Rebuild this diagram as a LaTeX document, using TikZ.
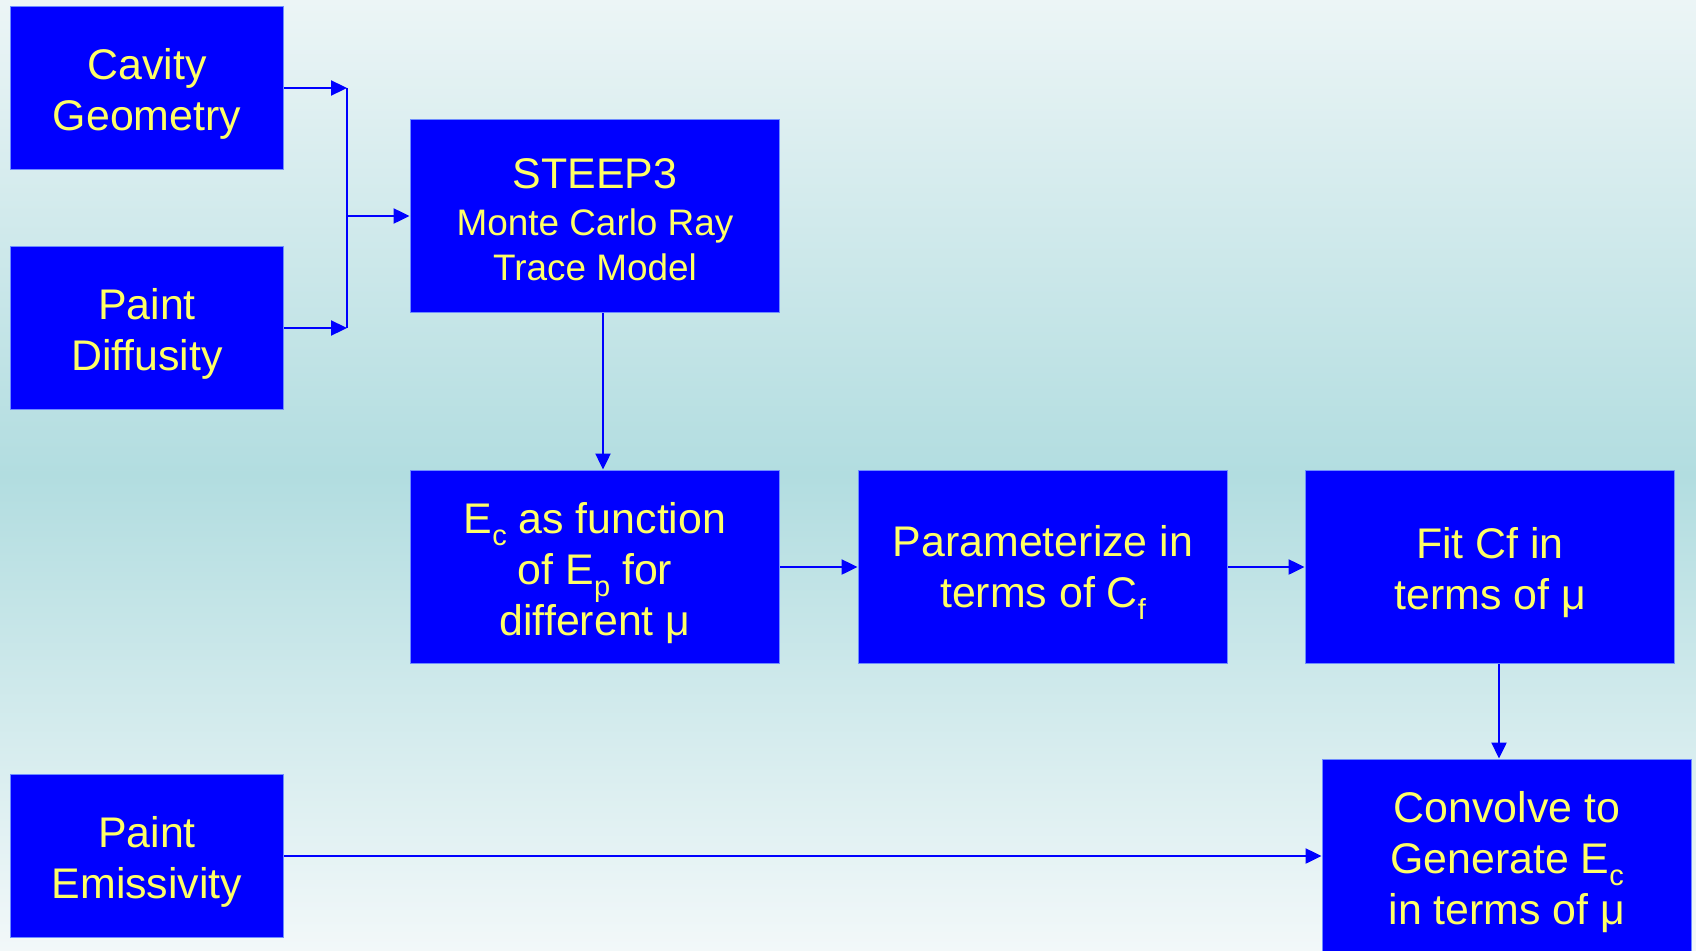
\documentclass[tikz,border=0pt]{standalone}
\usepackage{fontspec}
\setmainfont{Liberation Sans}
\usepackage{xcolor}
\usepackage{tikz}
\usetikzlibrary{arrows.meta,positioning,calc}

\definecolor{boxblue}{RGB}{0,0,255}
\definecolor{edgeblue}{RGB}{110,140,255}
\definecolor{txtyellow}{RGB}{255,255,102}
\definecolor{bgtop}{RGB}{236,245,246}
\definecolor{bgmid}{RGB}{178,221,224}
\definecolor{bgbot}{RGB}{242,248,249}

% lowered index, as the slides set it
\newcommand{\lowidx}[1]{\raisebox{-0.28em}{\fontsize{16.5}{16.5}\selectfont #1}}
% room above the first line, like the slide's text frame
\newcommand{\capstrut}{\rule{0pt}{1em}}

\begin{document}
\begin{tikzpicture}[x=0.02cm, y=-0.02cm,
    box/.style={draw=edgeblue, line width=0.02cm, fill=boxblue, text=txtyellow,
        align=center, inner sep=0pt, font=\fontsize{24.4}{29}\selectfont},
    inbox/.style={box, minimum width=5.48cm, minimum height=3.26cm},
    stepbox/.style={box, minimum width=7.4cm, minimum height=3.88cm},
    arrow/.style={draw=boxblue, line width=0.046cm, -{Triangle[length=0.32cm, width=0.3cm]}}]
    % Background
    \clip (0,0) rectangle (1696,950);
    \shade[top color=bgtop, bottom color=bgbot, middle color=bgmid] (0,0) rectangle (1696,950);

    % Inputs
    \node[inbox] (cavity) at (147,88) {\capstrut Cavity\\Geometry};
    \node[inbox] (diffus) at (147,328) {\capstrut Paint\\Diffusity};
    \node[inbox] (emis) at (147,856) {\capstrut Paint\\Emissivity};

    % Processing steps
    \node[stepbox, font=\fontsize{21}{25.5}\selectfont] (steep) at (595,216)
        {\capstrut{\fontsize{24.4}{29}\selectfont STEEP3}\\[0.05cm] Monte Carlo Ray\\Trace Model};
    \node[stepbox] (ec) at (595,567) {\capstrut E\lowidx{c} as function\\of E\lowidx{p} for\\different μ};
    \node[stepbox] (param) at (1043,567) {\capstrut Parameterize in\\terms of C\lowidx{f}};
    \node[stepbox] (fit) at (1490,567) {\capstrut Fit Cf in\\terms of μ};
    \node[stepbox] (conv) at (1507,856) {\capstrut Convolve to\\Generate E\lowidx{c}\\in terms of μ};

    % Joining bracket
    \coordinate (jtop) at (347,88);
    \coordinate (jbot) at (347,328);
    \coordinate (jmid) at (347,216);
    \draw[arrow] (cavity.east) -- (jtop);
    \draw[arrow] (diffus.east) -- (jbot);
    \draw[draw=boxblue, line width=0.046cm] (jtop) -- (jbot);
    \draw[arrow] (jmid) -- (steep.west |- jmid);

    % Flow
    \draw[arrow] ([xshift=0.16cm]steep.south) -- ([xshift=0.16cm]ec.north);
    \draw[arrow] (ec.east) -- (param.west);
    \draw[arrow] (param.east) -- (fit.west);
    \draw[arrow] ([xshift=0.18cm]fit.south) -- ([xshift=0.18cm]fit.south |- conv.north);
    \draw[arrow] (emis.east) -- (conv.west |- emis.east);
\end{tikzpicture}
\end{document}
